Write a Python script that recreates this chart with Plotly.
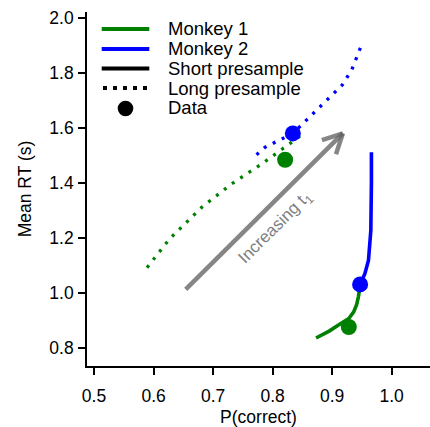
import math
import plotly.graph_objects as go

# ---------------- data ----------------
m1_long_x = [0.589, 0.627, 0.681, 0.731, 0.782, 0.832, 0.855]
m1_long_y = [1.091, 1.196, 1.311, 1.396, 1.469, 1.548, 1.584]
m2_long_x = [0.773, 0.787, 0.834, 0.883, 0.917, 0.933, 0.944, 0.950]
m2_long_y = [1.502, 1.529, 1.580, 1.684, 1.756, 1.812, 1.875, 1.905]
m1_short_x = [0.873, 0.895, 0.914, 0.928, 0.936, 0.941, 0.944, 0.947]
m1_short_y = [0.835, 0.860, 0.887, 0.906, 0.929, 0.955, 0.984, 1.025]
m2_short_x = [0.947, 0.955, 0.961, 0.965, 0.966, 0.966]
m2_short_y = [1.030, 1.069, 1.117, 1.227, 1.400, 1.511]
m1_data_x = [0.821, 0.928]
m1_data_y = [1.484, 0.875]
m2_data_x = [0.834, 0.947]
m2_data_y = [1.580, 1.030]
arrow_start = (0.654, 1.012)
arrow_end = (0.918, 1.580)
arrow_label = "Increasing t<sub>1</sub>"
arrow_label_pos = (0.805, 1.237)
legend_labels = ["Monkey 1", "Monkey 2", "Short presample", "Long presample", "Data"]
x_ticks = [0.5, 0.6, 0.7, 0.8, 0.9, 1.0]
y_ticks = [0.8, 1.0, 1.2, 1.4, 1.6, 1.8, 2.0]

GREEN = "#008000"
BLUE = "#0000ff"
GRAY = "rgba(100,100,100,0.78)"
FONT = "Liberation Sans, Arial, Helvetica, sans-serif"
LW = 3.6
DOT_W = 3.3
DOT = "3px,7px"

W, H = 430, 427
ML, MR, MT, MB = 87, 0, 12, 61
PW, PH = W - ML - MR, H - MT - MB
XR = [0.4882, 1.0644]
YR = [0.733, 2.022]
px_x = PW / (XR[1] - XR[0])
px_y = PH / (YR[1] - YR[0])

fig = go.Figure()

def line(x, y, color, dash=None):
    fig.add_trace(go.Scatter(x=x, y=y, mode="lines",
                             line=dict(color=color, width=DOT_W if dash else LW, dash=dash),
                             hoverinfo="skip", showlegend=False))

line(m1_long_x, m1_long_y, GREEN, DOT)
line(m2_long_x, m2_long_y, BLUE, DOT)
line(m1_short_x, m1_short_y, GREEN)
line(m2_short_x, m2_short_y, BLUE)
for xs, ys, c in [(m1_data_x, m1_data_y, GREEN), (m2_data_x, m2_data_y, BLUE)]:
    fig.add_trace(go.Scatter(x=xs, y=ys, mode="markers",
                             marker=dict(color=c, size=16, line=dict(width=0)),
                             hoverinfo="skip", showlegend=False))

# ---------------- arrow ----------------
shapes = []
shapes.append(dict(type="line", xref="x", yref="y",
                   x0=arrow_start[0], y0=arrow_start[1],
                   x1=arrow_end[0], y1=arrow_end[1],
                   line=dict(color=GRAY, width=4.5)))
# open V head, built in pixel space
dxp = (arrow_start[0] - arrow_end[0]) * px_x
dyp = (arrow_start[1] - arrow_end[1]) * px_y
ang = math.atan2(dyp, dxp)
for s in (-1, 1):
    a = ang + s * math.radians(27)
    hx = arrow_end[0] + 22 * math.cos(a) / px_x
    hy = arrow_end[1] + 22 * math.sin(a) / px_y
    shapes.append(dict(type="line", xref="x", yref="y",
                       x0=arrow_end[0], y0=arrow_end[1], x1=hx, y1=hy,
                       line=dict(color=GRAY, width=4.5)))

annotations = [dict(x=arrow_label_pos[0], y=arrow_label_pos[1], xref="x", yref="y",
                    text=arrow_label, showarrow=False, textangle=-45,
                    font=dict(family=FONT, size=17, color="#808080"))]

# ---------------- manual legend (pixel positions) ----------------
def px2paper(px, py):
    return (px - ML) / PW, (H - MB - py) / PH

rows = [29, 49, 68.5, 88, 108.5]
lx0, lx1, tx = 101.7, 149.3, 167
styles = [(GREEN, None), (BLUE, None), ("black", None), ("black", "dot")]
for (c, d), ry in zip(styles, rows[:4]):
    x0, y0 = px2paper(lx0 if d is None else 103, ry)
    x1, _ = px2paper(lx1, ry)
    shapes.append(dict(type="line", xref="paper", yref="paper",
                       x0=x0, y0=y0, x1=x1, y1=y0,
                       line=dict(color=c, width=4,
                                 dash=None if d is None else "4px,6px")))
cx, cy = px2paper((lx0 + lx1) / 2, rows[4])
r = 7.8
shapes.append(dict(type="circle", xref="paper", yref="paper",
                   x0=cx - r / PW, x1=cx + r / PW, y0=cy - r / PH, y1=cy + r / PH,
                   fillcolor="black", line=dict(width=0)))
for lab, ry in zip(legend_labels, rows):
    tx_p, ty_p = px2paper(tx, ry - 1.5 if lab == "Data" else ry)
    annotations.append(dict(x=tx_p, y=ty_p, xref="paper", yref="paper",
                            text=lab, showarrow=False, xanchor="left", yanchor="middle",
                            borderpad=0,
                            font=dict(family=FONT, size=18.5, color="black")))

axis_common = dict(showline=True, linecolor="black", linewidth=1.6,
                   ticks="outside", ticklen=7, tickwidth=1.6, tickcolor="black",
                   showgrid=False, zeroline=False, automargin=False,
                   tickfont=dict(family=FONT, size=17.5, color="black"))

fig.update_layout(
    width=W, height=H,
    margin=dict(l=ML, r=MR, t=MT, b=MB, pad=0, autoexpand=False),
    paper_bgcolor="white", plot_bgcolor="white",
    showlegend=False,
    shapes=shapes, annotations=annotations,
    xaxis=dict(range=XR, tickvals=x_ticks, ticktext=[f"{v:.1f}" for v in x_ticks],
               ticklabelstandoff=6,
               title=dict(text="P(correct)", font=dict(family=FONT, size=17.5, color="black"),
                          standoff=7),
               **axis_common),
    yaxis=dict(range=YR, tickvals=y_ticks, ticktext=[f"{v:.1f}" for v in y_ticks],
               ticklabelstandoff=1,
               title=dict(text="Mean RT (s)", font=dict(family=FONT, size=17.5, color="black"),
                          standoff=13),
               **axis_common),
)

fig.write_html("out.html", config={"displayModeBar": False},
               post_script="document.body.style.margin='0';document.body.style.overflow='hidden';")
